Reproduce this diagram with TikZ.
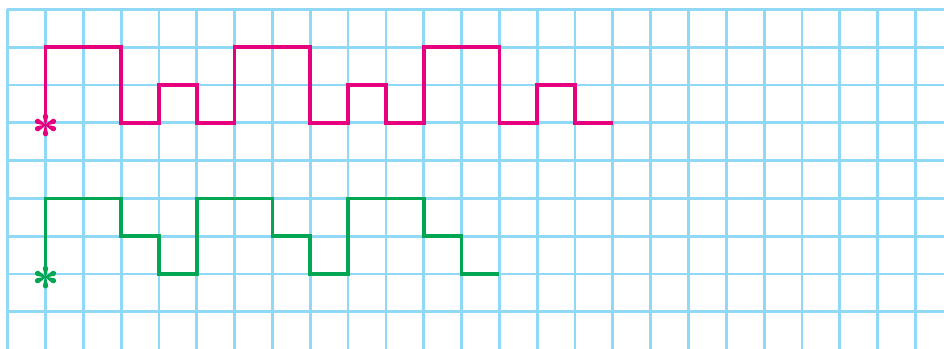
\documentclass[tikz,border=0pt]{standalone}
\definecolor{gridblue}{HTML}{8FD8F6}
\definecolor{pinkline}{HTML}{E6007E}
\definecolor{greenline}{HTML}{00A651}
\tikzset{
  gridline/.style={draw=gridblue, line width=2.8pt},
  pinkpath/.style={draw=pinkline, line width=3.6pt, line join=miter},
  greenpath/.style={draw=greenline, line width=3.6pt, line join=miter}
}
\begin{document}
\begin{tikzpicture}[x=1pt,y=-1pt]
\useasboundingbox (0,0) rectangle (944,348);
\fill[white] (0,0) rectangle (944,348);
\clip (0,0) rectangle (944,348);
\begin{scope}[shift={(7.7,9.3)}, x=37.82pt, y=-37.82pt]
  % grid
  \foreach \i in {0,...,24} \draw[gridline] (\i,0) -- (\i,9.2);
  \foreach \j in {0,...,8} \draw[gridline] (-0.02,\j) -- (25,\j);
  % pink path
  \coordinate (p0) at (1,2.85);
  \coordinate (pE) at (16,3);
  \draw[pinkpath] (p0) -- (1,1) -- (3,1) -- (3,3) -- (4,3) -- (4,2) -- (5,2) -- (5,3)
    -- (6,3) -- (6,1) -- (8,1) -- (8,3) -- (9,3) -- (9,2) -- (10,2) -- (10,3)
    -- (11,3) -- (11,1) -- (13,1) -- (13,3) -- (14,3) -- (14,2) -- (15,2) -- (15,3) -- (pE);
  % green path
  \coordinate (g0) at (1,6.85);
  \coordinate (gE) at (13,7);
  \draw[greenpath] (g0) -- (1,5) -- (3,5) -- (3,6) -- (4,6) -- (4,7) -- (5,7) -- (5,5)
    -- (7,5) -- (7,6) -- (8,6) -- (8,7) -- (9,7) -- (9,5) -- (11,5) -- (11,6)
    -- (12,6) -- (12,7) -- (gE);
  % asterisks
  \begin{scope}[shift={(1,3.06)}, x=37.82pt, y=37.82pt]
    \foreach \a in {90,270,25,155,205,335}{
      \fill[pinkline, rotate=\a-90] (-0.012,0) -- (-0.07,0.23) arc (180:0:0.07) -- (0.012,0) -- cycle;
    }
  \end{scope}
  \begin{scope}[shift={(1,7.08)}, x=37.82pt, y=37.82pt]
    \foreach \a in {90,270,25,155,205,335}{
      \fill[greenline, rotate=\a-90] (-0.012,0) -- (-0.07,0.23) arc (180:0:0.07) -- (0.012,0) -- cycle;
    }
  \end{scope}
\end{scope}
\end{tikzpicture}
\end{document}
